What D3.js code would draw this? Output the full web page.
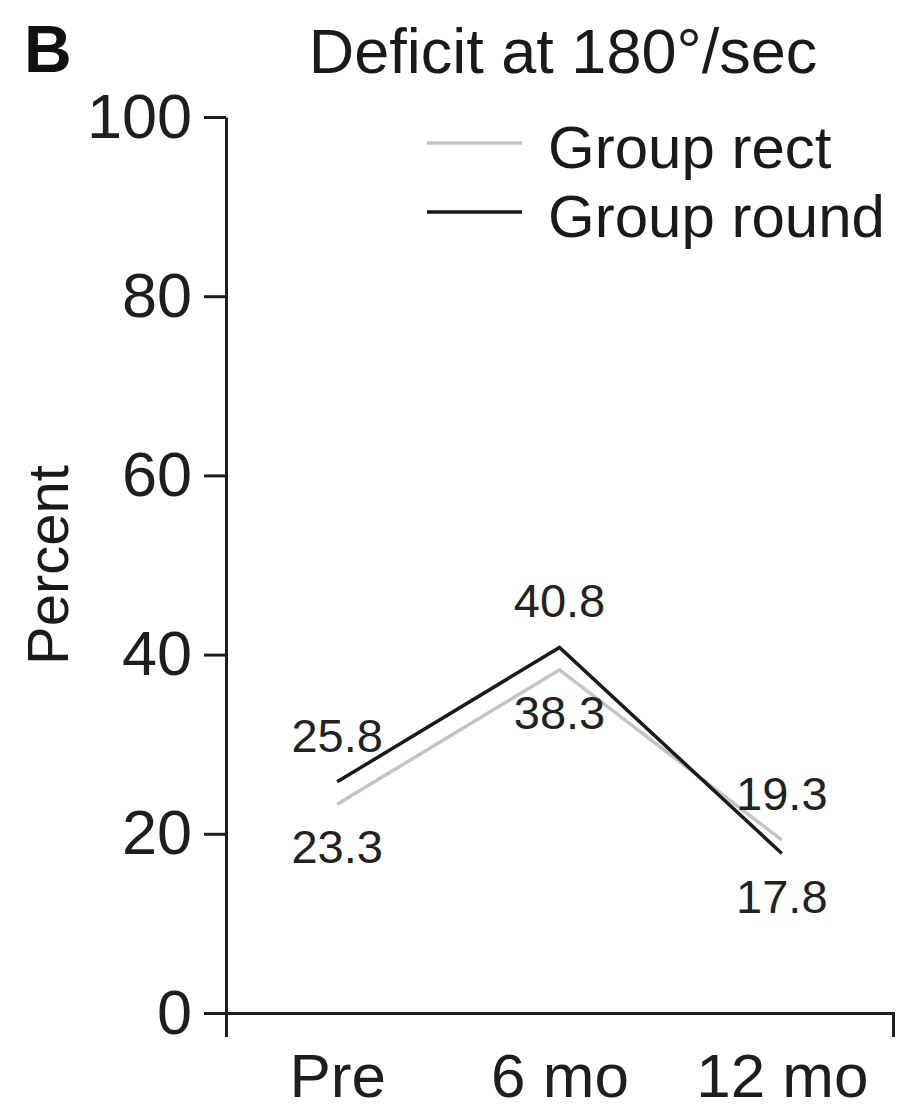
<!DOCTYPE html>
<html>
<head>
<meta charset="utf-8">
<script src="https://cdn.jsdelivr.net/npm/d3@7/dist/d3.min.js"></script>
<style>
  html, body { margin: 0; padding: 0; background: #fff; }
  svg { display: block; font-family: "Liberation Sans", Arial, sans-serif; }
</style>
</head>
<body>
<script>
const categories = ["Pre", "6 mo", "12 mo"];
const seriesNames = ["Group rect", "Group round"];
const rectValues = [23.3, 38.3, 19.3];
const roundValues = [25.8, 40.8, 17.8];
const yTicks = [0, 20, 40, 60, 80, 100];

const W = 901, H = 1110;
const svg = d3.select("body").append("svg").attr("width", W).attr("height", H);

const x = d3.scalePoint().domain(categories).range([226, 893]).padding(0.5);
const y = d3.scaleLinear().domain([0, 100]).range([1013, 117]);

const axisColor = "#1e1e1e";

// Y axis
const yAxis = d3.axisLeft(y).tickValues(yTicks).tickSizeInner(22).tickSizeOuter(0).tickPadding(12).tickFormat(d3.format("d"));
const gy = svg.append("g").attr("transform", "translate(226,0)").call(yAxis);
gy.selectAll("path, line").attr("stroke", axisColor).attr("stroke-width", 3);
gy.selectAll("text").attr("font-size", 63).attr("fill", "#1e1e1e").attr("font-family", "Liberation Sans, Arial, sans-serif");

// X axis
const xAxis = d3.axisBottom(x).tickSizeInner(0).tickSizeOuter(24).tickPadding(40);
const gx = svg.append("g").attr("transform", "translate(0,1013)").call(xAxis);
gx.selectAll("path, line").attr("stroke", axisColor).attr("stroke-width", 3);
gx.selectAll("line").remove();
gx.selectAll("text").attr("font-size", 62).attr("fill", "#1e1e1e").attr("font-family", "Liberation Sans, Arial, sans-serif");

// Lines
const line = d3.line().x((d, i) => x(categories[i])).y(d => y(d));
svg.append("path").datum(rectValues).attr("d", line).attr("fill", "none")
  .attr("stroke", "#c4c4c4").attr("stroke-width", 3.5);
svg.append("path").datum(roundValues).attr("d", line).attr("fill", "none")
  .attr("stroke", "#1a1a1a").attr("stroke-width", 3.5);

// Data labels: higher value above, lower below
const labelData = [];
categories.forEach((c, i) => {
  const a = rectValues[i], b = roundValues[i];
  const hi = Math.max(a, b), lo = Math.min(a, b);
  labelData.push({ c, v: hi, pos: "above" });
  labelData.push({ c, v: lo, pos: "below" });
});
svg.append("g").selectAll("text").data(labelData).join("text")
  .attr("x", d => x(d.c))
  .attr("y", d => d.pos === "above" ? y(d.v) - 30 : y(d.v) + 59)
  .attr("text-anchor", "middle")
  .attr("font-size", 47)
  .attr("fill", "#222")
  .text(d => d.v.toFixed(1));

// Legend
const legendColors = ["#c4c4c4", "#1a1a1a"];
const lg = svg.append("g");
seriesNames.forEach((n, i) => {
  const yy = 143 + i * 69;
  lg.append("line").attr("x1", 427).attr("x2", 522).attr("y1", yy).attr("y2", yy)
    .attr("stroke", legendColors[i]).attr("stroke-width", 3.5);
  lg.append("text").attr("x", 548).attr("y", yy + 25).attr("font-size", 60).attr("fill", "#1a1a1a").text(n);
});

// Title & panel letter
svg.append("text").attr("x", 563).attr("y", 73).attr("text-anchor", "middle")
  .attr("font-size", 63).attr("fill", "#1a1a1a").text("Deficit at 180°/sec");
svg.append("text").attr("x", 24).attr("y", 72).attr("font-size", 66).attr("font-weight", "bold")
  .attr("fill", "#111").text("B");

// Y label
svg.append("text").attr("transform", "translate(68,565) rotate(-90)").attr("text-anchor", "middle")
  .attr("font-size", 58).attr("fill", "#1a1a1a").text("Percent");
</script>
</body>
</html>
